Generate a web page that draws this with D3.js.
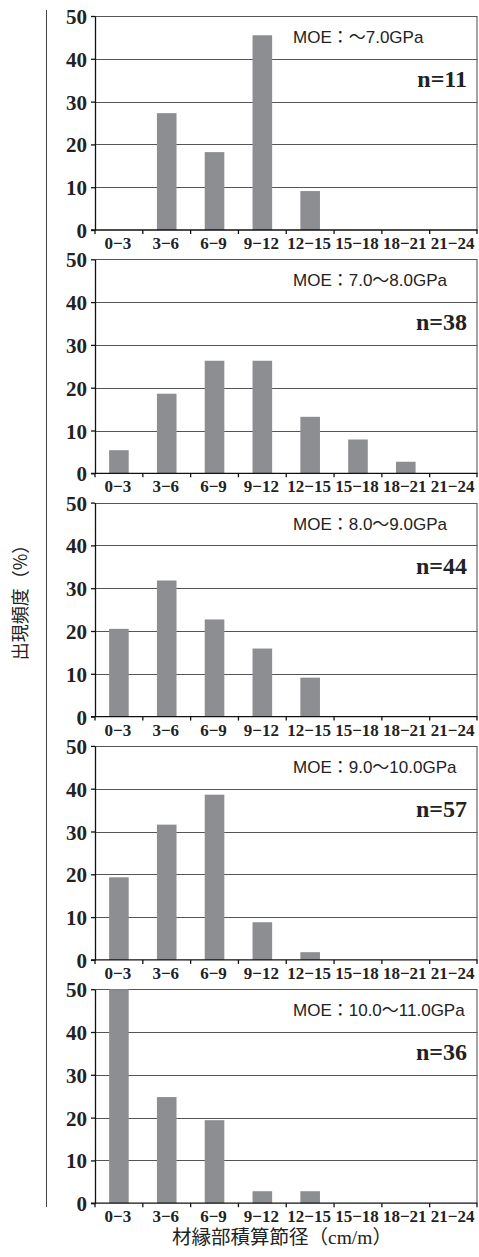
<!DOCTYPE html>
<html>
<head>
<meta charset="utf-8">
<script src="https://cdn.jsdelivr.net/npm/d3@7"></script>
<style>
  body { margin: 0; background: #fff; }
  svg { display: block; }
</style>
</head>
<body>
<svg id="chart" width="479" height="1257"></svg>
<script>
// knot size classes (cm/m) and the five MOE groups
var categories = ["0−3", "3−6", "6−9", "9−12", "12−15", "15−18", "18−21", "21−24"];
var moeLabels = ["MOE：～7.0GPa", "MOE：7.0～8.0GPa", "MOE：8.0～9.0GPa", "MOE：9.0～10.0GPa", "MOE：10.0～11.0GPa"];
var nLabels = ["n=11", "n=38", "n=44", "n=57", "n=36"];
var yTicks = [0, 10, 20, 30, 40, 50];

// frequency (%) per class
var freqMoe1 = [0, 27.3, 18.2, 45.5, 9.1, 0, 0, 0];
var freqMoe2 = [5.4, 18.6, 26.3, 26.3, 13.2, 7.9, 2.7, 0];
var freqMoe3 = [20.5, 31.8, 22.7, 15.9, 9.1, 0, 0, 0];
var freqMoe4 = [19.3, 31.6, 38.6, 8.8, 1.8, 0, 0, 0];
var freqMoe5 = [50.0, 24.8, 19.4, 2.8, 2.8, 0, 0, 0];

var panels = [freqMoe1, freqMoe2, freqMoe3, freqMoe4, freqMoe5];

var svg = d3.select("#chart");

var left = 95,
  right = 477.5,
  firstTop = 16,
  panelH = 214,
  panelStep = 243.3;

var xCell = d3.scaleBand().domain(categories).range([left, right]);
var xBar = d3
  .scaleBand()
  .domain(categories)
  .range([left, right])
  .paddingInner(0.59)
  .paddingOuter(0.295);

var serif = "'Liberation Serif', 'Times New Roman', serif";

// outer line at the far left
svg
  .append("line")
  .attr("x1", 46.5)
  .attr("x2", 46.5)
  .attr("y1", 10)
  .attr("y2", 1207)
  .attr("stroke", "#444")
  .attr("stroke-width", 1);

panels.forEach(function(vals, i) {
  var top = firstTop + i * panelStep;
  var y = d3
    .scaleLinear()
    .domain([0, 50])
    .range([top + panelH, top]);

  var g = svg.append("g").attr("class", "panel");

  // grid lines + top border
  g.selectAll("line.grid")
    .data(yTicks.slice(1))
    .enter()
    .append("line")
    .attr("class", "grid")
    .attr("x1", left)
    .attr("x2", right)
    .attr("y1", function(d) { return Math.round(y(d)) + 0.5; })
    .attr("y2", function(d) { return Math.round(y(d)) + 0.5; })
    .attr("stroke", "#555")
    .attr("stroke-width", 1);

  // right border
  g.append("line")
    .attr("x1", right - 0.5)
    .attr("x2", right - 0.5)
    .attr("y1", Math.round(y(50)) + 0.5)
    .attr("y2", y(0))
    .attr("stroke", "#666")
    .attr("stroke-width", 1.2);

  // bars
  g.selectAll("rect")
    .data(vals)
    .enter()
    .append("rect")
    .attr("x", function(d, j) { return xBar(categories[j]); })
    .attr("width", xBar.bandwidth())
    .attr("y", function(d) { return y(d); })
    .attr("height", function(d) { return y(0) - y(d); })
    .attr("fill", "#8d8e92");

  // y axis
  var yAxis = g
    .append("g")
    .attr("transform", "translate(" + left + ",0)")
    .call(d3.axisLeft(y).tickValues(yTicks).tickSize(4).tickSizeOuter(0).tickPadding(4));
  yAxis.select(".domain").attr("stroke", "#111").attr("stroke-width", 1.3);
  yAxis.selectAll(".tick line").attr("stroke", "#111").attr("stroke-width", 1.3);
  yAxis
    .selectAll(".tick text")
    .attr("font-family", serif)
    .attr("font-weight", "bold")
    .attr("font-size", 21)
    .attr("fill", "#222")
    .attr("dy", "0.36em");

  // x axis: ticks on class boundaries, labels centred in classes
  var baseY = y(0);
  g.append("line")
    .attr("x1", left - 4)
    .attr("x2", right)
    .attr("y1", baseY)
    .attr("y2", baseY)
    .attr("stroke", "#111")
    .attr("stroke-width", 1.3);
  var bounds = categories.map(function(c) { return xCell(c); }).concat([right - 0.5]);
  g.selectAll("line.xt")
    .data(bounds)
    .enter()
    .append("line")
    .attr("class", "xt")
    .attr("x1", function(d) { return d; })
    .attr("x2", function(d) { return d; })
    .attr("y1", baseY)
    .attr("y2", baseY + 4)
    .attr("stroke", "#111")
    .attr("stroke-width", 1.3);
  g.selectAll("text.xl")
    .data(categories)
    .enter()
    .append("text")
    .attr("class", "xl")
    .attr("x", function(d) { return xCell(d) + xCell.bandwidth() / 2 - 1; })
    .attr("y", baseY + 19)
    .attr("text-anchor", "middle")
    .attr("font-family", serif)
    .attr("font-weight", "bold")
    .attr("font-size", 17)
    .attr("fill", "#222")
    .text(function(d) { return d; });

  // MOE class label and sample size
  g.append("text")
    .attr("x", 293)
    .attr("y", top + 27)
    .attr("font-family", "'Liberation Sans', Arial, 'Noto Sans CJK JP', sans-serif")
    .attr("font-size", 17)
    .attr("fill", "#222")
    .text(moeLabels[i]);

  g.append("text")
    .attr("x", 467)
    .attr("y", top + 71)
    .attr("text-anchor", "end")
    .attr("font-family", serif)
    .attr("font-weight", "bold")
    .attr("font-size", 24)
    .attr("fill", "#222")
    .text(nLabels[i]);
});

// axis titles
svg
  .append("text")
  .attr("transform", "translate(27,598) rotate(-90)")
  .attr("text-anchor", "middle")
  .attr("font-family", "'Noto Sans CJK JP', sans-serif")
  .attr("font-size", 18)
  .attr("fill", "#222")
  .text("出現頻度（%）");

svg
  .append("text")
  .attr("x", 282)
  .attr("y", 1244)
  .attr("text-anchor", "middle")
  .attr("font-family", "'Liberation Serif', 'Noto Sans CJK JP', serif")
  .attr("font-size", 19.5)
  .attr("fill", "#222")
  .text("材縁部積算節径（cm/m）");
</script>
</body>
</html>
